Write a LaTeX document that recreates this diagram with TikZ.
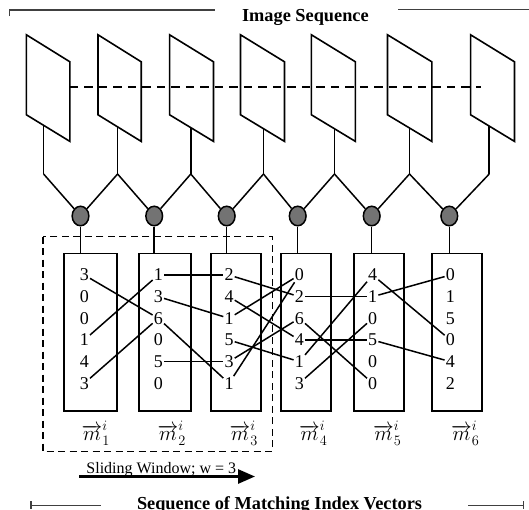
\documentclass[tikz,border=0pt]{standalone}
\usepackage{fontspec}
\setmainfont{Liberation Serif}
\usetikzlibrary{arrows.meta,calc,shapes.geometric}
\begin{document}
\begin{tikzpicture}[x=1pt,y=-1pt,line join=miter,
  frame/.style={draw,line width=1.6pt},
  wire/.style={line width=1.5pt},
  hub/.style={ellipse,draw,line width=1.5pt,fill=black!55,minimum width=16.7pt,minimum height=19.5pt,inner sep=0pt},
  vecbox/.style={draw,line width=1.7pt,minimum height=157.4pt,inner sep=0pt},
  num/.style={inner sep=1pt,font=\fontsize{18}{18}\selectfont},
  match/.style={line width=1.5pt},
  lab/.style={anchor=base,inner sep=0pt,font=\fontsize{20.5}{22}\selectfont},
  titletext/.style={anchor=base,inner sep=0pt,font=\fontsize{18.3}{20}\selectfont\bfseries},
  brack/.style={line width=1.1pt,draw=black!75},
  windowbox/.style={line width=1.6pt,dash pattern=on 7pt off 4.5pt},
  seqdash/.style={line width=1.5pt,dash pattern=on 8.5pt off 6pt}]
\useasboundingbox (0,0) rectangle (529,509);

% title and brackets (top)
\node[titletext] (top) at (305.4,21) {Image Sequence};
\coordinate (tl0) at (9.5,16);
\coordinate (tl1) at (9.5,10);
\coordinate (tl2) at (214.9,10);
\coordinate (tr1) at (398.3,9.5);
\coordinate (tr2) at (529,9.5);
\draw[brack] (tl0) -- (tl1) -- (tl2);
\draw[brack] (tr1) -- (tr2);

% frames
\foreach \i/\L/\R/\s in {1/26.4/69.9/43.6, 2/98/141.2/117.6, 3/169.6/213.5/190.8, 4/240.5/284.5/263.5, 5/311.4/355.4/334.5, 6/387.5/431.8/409.5, 7/470.6/514.5/489.2} {
  \draw[frame] (\L,34.8) -- (\R,61.8) -- (\R,141.4) -- (\L,114.8) -- cycle;
  \pgfmathsetmacro\yb{114.8+26.6*(\s-\L)/(\R-\L)}
  \coordinate (fb\i) at (\s,\yb);
  \coordinate (st\i) at (\s,174);
  \draw[wire] (fb\i) -- (st\i);
}
\coordinate (dl) at (69.9,87.2);
\coordinate (dr) at (481.4,87.2);
\draw[seqdash] (dl) -- (dr);

% hubs
\foreach \i/\x in {1/80.5,2/154.2,3/226.7,4/297.7,5/371.7,6/449.3}
  \node[hub] (c\i) at (\x,216) {};
\foreach \i [evaluate=\i as \j using int(\i+1)] in {1,...,6}
  \draw[wire] (st\i) -- (c\i) -- (st\j);

% boxes
\node[vecbox,minimum width=53pt] (b1) at (90.8,332.1) {};
\node[vecbox,minimum width=51.4pt] (b2) at (165,332.1) {};
\node[vecbox,minimum width=50pt] (b3) at (235.7,332.1) {};
\node[vecbox,minimum width=50.3pt] (b4) at (305.85,332.1) {};
\node[vecbox,minimum width=50.6pt] (b5) at (379,332.1) {};
\node[vecbox,minimum width=50pt] (b6) at (457,332.1) {};
\foreach \i in {1,...,6}
  \draw[wire] (c\i) -- (c\i |- b\i.north);

% numbers
\foreach \c/\x/\vals in {1/84.3/{3,0,0,1,4,3}, 2/158.3/{1,3,6,0,5,0}, 3/229/{2,4,1,5,3,1}, 4/299.3/{0,2,6,4,1,3}, 5/372.7/{4,1,0,5,0,0}, 6/450.3/{0,1,5,0,4,2}} {
  \foreach \v [count=\r] in \vals
    \node[num] (n\c\r) at (\x,{275+21.66*(\r-1)}) {\v};
}

% matching lines
\draw[match] (n11) -- (n23);
\draw[match] (n14) -- (n21);
\draw[match] (n16) -- (n23);
\draw[match] (n21) -- (n31);
\draw[match] (n22) -- (n33);
\draw[match] (n23) -- (n36);
\draw[match] (n25) -- (n35);
\draw[match] (n31) -- (n42);
\draw[match] (n32) -- (n44);
\draw[match] (n33) -- (n41);
\draw[match] (n34) -- (n45);
\draw[match] (n35) -- (n43);
\draw[match] (n36) -- (n41);
\draw[match] (n42) -- (n52);
\draw[match] (n43) -- (n56);
\draw[match] (n44) -- (n54);
\draw[match] (n45) -- (n51);
\draw[match] (n46) -- (n53);
\draw[match] (n51) -- (n64);
\draw[match] (n52) -- (n61);
\draw[match] (n54) -- (n65);

% sliding window
\coordinate (w1) at (43,236.5);
\coordinate (w2) at (272.3,451.4);
\draw[windowbox] (w1) rectangle (w2);

% labels
\node[lab] (m1) at (95.8,440) {$\overrightarrow{m}^{i}_{1}$};
\node[lab] (m2) at (171.8,440) {$\overrightarrow{m}^{i}_{2}$};
\node[lab] (m3) at (243.7,440) {$\overrightarrow{m}^{i}_{3}$};
\node[lab] (m4) at (313.2,440) {$\overrightarrow{m}^{i}_{4}$};
\node[lab] (m5) at (387.2,440) {$\overrightarrow{m}^{i}_{5}$};
\node[lab] (m6) at (465.2,440) {$\overrightarrow{m}^{i}_{6}$};

\node[anchor=base,inner sep=0pt,font=\fontsize{16}{16}\selectfont] (sw) at (161.3,473.6) {Sliding Window; w = 3};
\coordinate (a1) at (79.4,476.5);
\coordinate (a2) at (255,476.5);
\draw[line width=2.8pt,-{Triangle[length=17pt,width=14pt]}] (a1) -- (a2);

% bottom title and brackets
\node[titletext] (bot) at (279.5,509.6) {Sequence of Matching Index Vectors};
\coordinate (bl0) at (31,501);
\coordinate (bl1) at (31,509);
\coordinate (blm) at (31,505.7);
\coordinate (bl2) at (101,505.7);
\coordinate (br1) at (468,505.7);
\coordinate (br2) at (523.6,505.7);
\coordinate (br3) at (523.6,501);
\coordinate (br4) at (523.6,509);
\draw[brack] (bl0) -- (bl1);
\draw[brack] (blm) -- (bl2);
\draw[brack] (br1) -- (br2);
\draw[brack] (br3) -- (br4);
\end{tikzpicture}
\end{document}
